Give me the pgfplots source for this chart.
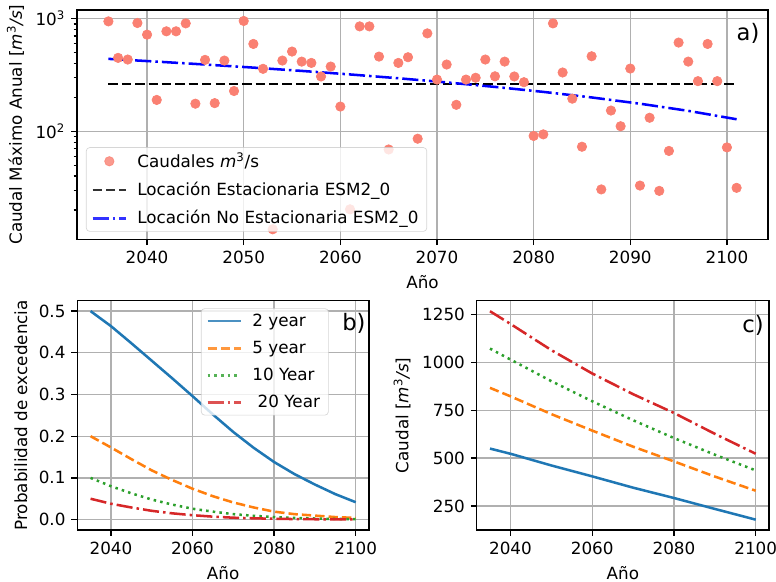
\documentclass[border=0pt]{standalone}
\usepackage{fontspec}
\setmainfont{DejaVu Sans}
\usepackage{pgfplots}
\pgfplotsset{compat=1.18}
\definecolor{salmon}{HTML}{FA8072}
\definecolor{tabblue}{HTML}{1F77B4}
\definecolor{taborange}{HTML}{FF7F0E}
\definecolor{tabgreen}{HTML}{2CA02C}
\definecolor{tabred}{HTML}{D62728}
\definecolor{gridgray}{HTML}{B0B0B0}
\definecolor{legedge}{HTML}{CCCCCC}

\pgfplotsset{
  every axis/.append style={
    scale only axis,
    axis line style={line width=0.8bp},
    every tick/.style={black,line width=0.8bp},
    tick align=outside,
    tick pos=left,
    major tick length=3.5bp,
    minor tick length=2bp,
    grid=major,
    major grid style={gridgray, line width=0.8bp},
    /pgf/number format/assume math mode=true,
    /pgf/number format/set thousands separator={},
    legend cell align=left,
    legend style={draw=legedge, rounded corners=2bp, fill=white, fill opacity=0.8, draw opacity=0.8, text opacity=1, inner xsep=3bp, inner ysep=1bp, row sep=3.3bp, font=\fontsize{10}{12}\selectfont,
      /tikz/every odd column/.append style={column sep=4bp}},
    legend image code/.code={\draw[mark repeat=2,mark phase=2,#1] plot coordinates {(0cm,0cm)(0.35cm,0cm)(0.7cm,0cm)};},
  },
}

\begin{document}
\begin{tikzpicture}
\path[use as bounding box] (0,0) rectangle (460.8bp,345.6bp);

% ---------- a) ----------
\begin{axis}[
  at={(45.724bp,203.50bp)}, anchor=south west,
  width=410.33bp, height=136.16bp,
  ymode=log,
  xmin=2032.75, xmax=2104.25, ymin=11, ymax=1195,
  xtick={2040,2050,2060,2070,2080,2090,2100},
  ytick={100,1000},
  yticklabels={10\textsuperscript{2},10\textsuperscript{3}},
  minor ytick={20,30,40,50,60,70,80,90,200,300,400,500,600,700,800,900},
  xlabel={Año},
  ylabel={Caudal Máximo Anual [\textit{m}\textsuperscript{3}\textit{/s}]},
  legend style={at={(0.013,0.033)}, anchor=south west},
]
\addplot[only marks, mark=*, mark size=2.8bp, color=salmon, mark options={draw=none, fill=salmon}] table {
x y
2036 947
2037 449
2038 434
2039 916
2040 722
2041 190
2042 773
2043 773
2044 909
2045 176
2046 431
2047 178
2048 425
2049 228
2050 955
2051 597
2052 359
2053 13.5
2054 425
2055 511
2056 416
2057 405
2058 307
2059 376
2060 166
2061 20.3
2062 855
2063 855
2064 461
2065 69
2066 405
2067 455
2068 86
2069 741
2070 288
2071 392
2072 172
2073 288
2074 299
2075 434
2076 308
2077 416
2078 307
2079 273
2080 91
2081 94
2082 909
2083 333
2084 195
2085 73
2086 464
2087 30.5
2088 153
2089 111
2090 361
2091 33
2092 132
2093 29.6
2094 67
2095 614
2096 416
2097 279
2098 597
2099 279
2100 72
2101 31.5
};
\addlegendentry{Caudales \textit{m}\textsuperscript{3}/s}
\addplot[black, line width=1.5bp, dash pattern=on 5.55bp off 2.4bp] coordinates {(2036,264) (2101,264)};
\addlegendentry{Locación Estacionaria ESM2\_0}
\addplot[blue, line width=1.5bp, dash pattern=on 9.6bp off 2.4bp on 1.5bp off 2.4bp] coordinates {
(2036,440) (2041,416) (2046,392) (2051,368) (2056,344) (2061,320) (2066,296)
(2071,272) (2076,248) (2081,224) (2086,200) (2091,176) (2096,152) (2101,128)};
\addlegendentry{Locación No Estacionaria ESM2\_0}
\node[anchor=east, inner sep=0pt, font=\fontsize{13.5}{16}\selectfont] at (rel axis cs:0.988,0.8975) {a)};
\end{axis}

% ---------- b) ----------
\begin{axis}[
  at={(45.90bp,30.88bp)}, anchor=south west,
  width=173.22bp, height=136.16bp,
  xmin=2031.75, xmax=2103.25, ymin=-0.025, ymax=0.525,
  xtick={2040,2060,2080,2100},
  ytick={0,0.1,0.2,0.3,0.4,0.5},
  yticklabel style={/pgf/number format/.cd, fixed, fixed zerofill, precision=1},
  xlabel={Año},
  ylabel={Probabilidad de excedencia},
  legend style={at={(0.424,0.967)}, anchor=north west},
]
\addplot[tabblue, line width=1.5bp] coordinates {
(2035,0.5) (2040,0.464) (2045,0.423) (2050,0.381) (2055,0.339) (2060,0.296) (2065,0.252)
(2070,0.21) (2075,0.172) (2080,0.138) (2085,0.109) (2090,0.084) (2095,0.061) (2100,0.0416)};
\addlegendentry{2 year}
\addplot[taborange, line width=1.5bp, dash pattern=on 5.55bp off 2.4bp] coordinates {
(2035,0.2) (2040,0.173) (2045,0.145) (2050,0.118) (2055,0.095) (2060,0.074) (2065,0.056)
(2070,0.041) (2075,0.029) (2080,0.019) (2085,0.013) (2090,0.0095) (2095,0.006) (2100,0.004)};
\addlegendentry{5 year}
\addplot[tabgreen, line width=1.5bp, dash pattern=on 1.5bp off 2.475bp] coordinates {
(2035,0.1) (2040,0.08) (2045,0.063) (2050,0.048) (2055,0.036) (2060,0.026) (2065,0.019)
(2070,0.013) (2075,0.009) (2080,0.006) (2085,0.004) (2090,0.0025) (2095,0.0015) (2100,0.001)};
\addlegendentry{10 Year}
\addplot[tabred, line width=1.5bp, dash pattern=on 9.6bp off 2.4bp on 1.5bp off 2.4bp] coordinates {
(2035,0.05) (2040,0.038) (2045,0.029) (2050,0.021) (2055,0.015) (2060,0.0105) (2065,0.007)
(2070,0.0045) (2075,0.003) (2080,0.002) (2085,0.0012) (2090,0.0008) (2095,0.0005) (2100,0.0003)};
\addlegendentry{\ 20 Year}
\node[anchor=east, inner sep=0pt, font=\fontsize{13.5}{16}\selectfont] at (rel axis cs:0.989,0.901) {b)};
\end{axis}

% ---------- c) ----------
\begin{axis}[
  at={(283.07bp,30.88bp)}, anchor=south west,
  width=173.57bp, height=136.16bp,
  xmin=2031.75, xmax=2103.25, ymin=125, ymax=1322,
  xtick={2040,2060,2080,2100},
  ytick={250,500,750,1000,1250},
  xlabel={Año},
  ylabel={Caudal [\textit{m}\textsuperscript{3}\textit{/s}]},
]
\addplot[tabblue, line width=1.5bp] coordinates {
(2035,550) (2040,523) (2050,462) (2060,405) (2070,346) (2080,292) (2090,235) (2100,179)};
\addplot[taborange, line width=1.5bp, dash pattern=on 5.55bp off 2.4bp] coordinates {
(2035,867) (2040,823) (2050,730) (2060,644) (2070,560) (2080,483) (2090,404) (2100,330)};
\addplot[tabgreen, line width=1.5bp, dash pattern=on 1.5bp off 2.475bp] coordinates {
(2035,1072) (2040,1015) (2050,902) (2060,797) (2070,698) (2080,605) (2090,518) (2100,436)};
\addplot[tabred, line width=1.5bp, dash pattern=on 9.6bp off 2.4bp on 1.5bp off 2.4bp] coordinates {
(2035,1267) (2040,1201) (2050,1064) (2060,942) (2070,834) (2080,736) (2090,627) (2100,523)};
\node[anchor=east, inner sep=0pt, font=\fontsize{13.5}{16}\selectfont] at (rel axis cs:0.983,0.894) {c)};
\end{axis}
\end{tikzpicture}
\end{document}
